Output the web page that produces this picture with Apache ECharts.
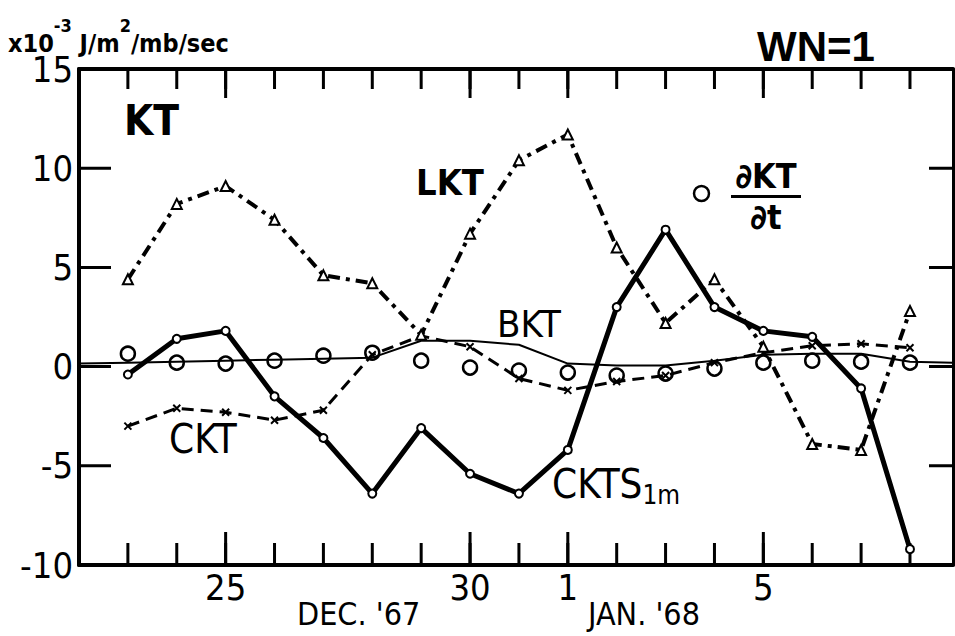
<!DOCTYPE html>
<html>
<head>
<meta charset="utf-8">
<script src="https://cdn.jsdelivr.net/npm/echarts@6/dist/echarts.min.js"></script>
<style>
  html, body { margin: 0; padding: 0; background: #fff; }
  #chart { width: 955px; height: 636px; }
</style>
</head>
<body>
<div id="chart"></div>
<script>
// Kinetic energy budget terms for wave number 1, 22 Dec 1967 - 8 Jan 1968.
// x is the day count, day 0 = 22 Dec 1967.
const days = [1, 2, 3, 4, 5, 6, 7, 8, 9, 10, 11, 12, 13, 14, 15, 16, 17];
const bktDays = [0, 1, 2, 3, 4, 5, 6, 7, 8, 9, 10, 11, 12, 13, 14, 15, 16, 17, 17.88];

// units: 10^-3 J/m^2/mb/sec
const lkt  = [4.4, 8.2, 9.1, 7.4, 4.6, 4.2, 1.6, 6.7, 10.4, 11.7, 6.0, 2.2, 4.4, 1.0, -3.9, -4.2, 2.8];
const ckts = [-0.4, 1.4, 1.8, -1.5, -3.6, -6.4, -3.1, -5.4, -6.4, -4.2, 3.0, 6.9, 3.0, 1.8, 1.5, -1.1, -9.2];
const dktdt = [0.65, 0.2, 0.15, 0.3, 0.55, 0.7, 0.3, -0.05, -0.2, -0.3, -0.45, -0.35, -0.1, 0.2, 0.3, 0.25, 0.2];
const ckt  = [-3.0, -2.1, -2.3, -2.7, -2.2, 0.6, 1.55, 1.0, -0.6, -1.2, -0.75, -0.45, 0.2, 0.7, 1.05, 1.15, 0.95];
const bkt  = [0.15, 0.2, 0.25, 0.3, 0.35, 0.4, 0.45, 1.3, 1.3, 1.1, 0.15, 0.05, 0.05, 0.3, 0.6, 0.65, 0.65, 0.25, 0.2];

// axis ticks and labels
const dayTicks = [1, 2, 3, 4, 5, 6, 7, 8, 9, 10, 11, 12, 13, 14, 15, 16, 17];
const dateTickDays = [3, 8, 10, 14];
const dateTickLabels = ['25', '30', '1', '5'];
const valueTicks = [-5, 0, 5, 10];
const yTickLabels = ['-10', '-5', '0', '5', '10', '15'];

const pairs = (xs, ys) => xs.map((x, i) => [x, ys[i]]);
const dateLabel = v => {
  const i = dateTickDays.indexOf(v);
  return i >= 0 ? dateTickLabels[i] : '';
};

const NARROW = "'Liberation Sans Narrow', 'DejaVu Sans Condensed', 'Liberation Sans', sans-serif";
const INK = '#000';
const X_MIN = 0, X_MAX = 17.88, Y_MIN = -10, Y_MAX = 15;

// plot box in pixels, used to express tick lengths in axis units
const GRID = { left: 79, right: 2, top: 69, bottom: 71 };
const PX_PER_DAY = (955 - GRID.left - GRID.right) / (X_MAX - X_MIN);
const PX_PER_UNIT = (636 - GRID.top - GRID.bottom) / (Y_MAX - Y_MIN);

// inward tick marks: short segments separated by empty points
function verticalTicks(ticks, edge, lenPx, dir) {
  const out = [];
  ticks.forEach(d => {
    out.push([d, edge], [d, edge + dir * lenPx / PX_PER_UNIT], [d, null]);
  });
  return out;
}
function horizontalTicks(ticks, edge, lenPx, dir) {
  const out = [];
  ticks.forEach(v => {
    out.push([edge, v], [edge + dir * lenPx / PX_PER_DAY, v], [edge, null]);
  });
  return out;
}
const tickSeries = (name, data) => ({
  name, type: 'line', data, symbol: 'none', silent: true, clip: false,
  connectNulls: false, z: 1,
  lineStyle: { color: INK, width: 3, cap: 'butt' }
});

// free-standing annotation text
const note = (left, top, text, textStyle) => ({
  left, top, padding: 0, itemGap: 0, text,
  textStyle: Object.assign({ color: INK, fontFamily: NARROW, fontWeight: 'normal' }, textStyle)
});

const chart = echarts.init(document.getElementById('chart'), null, { renderer: 'svg' });

chart.setOption({
  animation: false,
  grid: Object.assign({ outerBoundsMode: 'none' }, GRID),
  title: [
    note(8, 16, '{m|x10}{s|-3}{m| J/m}{s|2}{m|/mb/sec}', {
      fontWeight: 'bold',
      rich: {
        m: { fontSize: 25, fontWeight: 'bold', fontFamily: NARROW, color: INK, lineHeight: 40, verticalAlign: 'bottom' },
        s: { fontSize: 18, fontWeight: 'bold', fontFamily: NARROW, color: INK, lineHeight: 40, verticalAlign: 'top' }
      }
    }),
    note(757, 25, 'WN=1', { fontFamily: "'Liberation Sans', sans-serif", fontWeight: 'bold', fontSize: 42 }),
    note(124, 99, 'KT', { fontWeight: 'bold', fontSize: 42 }),
    note(416, 164, 'LKT', { fontWeight: 'bold', fontSize: 36 }),
    note(694, 186, '{c|}', {
      rich: { c: { width: 15, height: 15, borderColor: INK, borderWidth: 2.5, borderRadius: 10 } }
    }),
    note(731, 158, '{n|∂KT}\n{bar|}\n{n|∂t}', {
      rich: {
        n: { width: 70, align: 'center', fontSize: 34, fontWeight: 'bold', fontFamily: NARROW, color: INK, lineHeight: 36 },
        bar: { width: 70, height: 3, backgroundColor: INK, lineHeight: 5 }
      }
    }),
    note(497, 305, 'BKT', { fontSize: 38 }),
    note(169, 419, 'CKT', { fontSize: 40 }),
    note(552, 464, '{a|CKTS}{b|1m}', {
      rich: {
        a: { fontSize: 40, fontFamily: NARROW, color: INK, lineHeight: 44, verticalAlign: 'top' },
        b: { fontSize: 26, fontFamily: NARROW, color: INK, lineHeight: 44, verticalAlign: 'bottom' }
      }
    }),
    note(297, 598, "DEC. '67", { fontSize: 32 }),
    note(588, 598, "JAN. '68", { fontSize: 32 })
  ],
  xAxis: [
    {
      type: 'value', min: X_MIN, max: X_MAX, interval: 1, position: 'bottom',
      splitLine: { show: false },
      axisLine: { show: true, onZero: false, lineStyle: { color: INK, width: 4 } },
      axisTick: { show: false },
      axisLabel: {
        show: true, formatter: dateLabel, showMinLabel: false, showMaxLabel: false,
        color: INK, fontFamily: NARROW, fontSize: 36, margin: 4
      }
    },
    {
      type: 'value', min: X_MIN, max: X_MAX, interval: 1, position: 'top',
      splitLine: { show: false },
      axisLine: { show: true, onZero: false, lineStyle: { color: INK, width: 4 } },
      axisTick: { show: false },
      axisLabel: { show: false }
    }
  ],
  yAxis: [
    {
      type: 'value', min: Y_MIN, max: Y_MAX, interval: 5, position: 'left',
      splitLine: { show: false },
      axisLine: { show: true, onZero: false, lineStyle: { color: INK, width: 4 } },
      axisTick: { show: false },
      axisLabel: {
        color: INK, fontFamily: NARROW, fontSize: 36, margin: 6,
        formatter: v => yTickLabels[(v - Y_MIN) / 5]
      }
    },
    {
      type: 'value', min: Y_MIN, max: Y_MAX, interval: 5, position: 'right',
      splitLine: { show: false },
      axisLine: { show: true, onZero: false, lineStyle: { color: INK, width: 3 } },
      axisTick: { show: false },
      axisLabel: { show: false }
    }
  ],
  series: [
    tickSeries('bottom day ticks', verticalTicks(dayTicks, Y_MIN, 22, 1)),
    tickSeries('top day ticks', verticalTicks(dayTicks, Y_MAX, 20, -1)),
    tickSeries('bottom date ticks', verticalTicks(dateTickDays, Y_MIN, 33, 1)),
    tickSeries('top date ticks', verticalTicks(dateTickDays, Y_MAX, 29, -1)),
    tickSeries('left value ticks', horizontalTicks(valueTicks, X_MIN, 32, 1)),
    tickSeries('right value ticks', horizontalTicks(valueTicks, X_MAX, 24, -1)),
    {
      name: 'BKT', type: 'line', data: pairs(bktDays, bkt),
      symbol: 'none', lineStyle: { color: INK, width: 2 }
    },
    {
      name: 'CKT', type: 'line', data: pairs(days, ckt),
      symbol: 'path://M0,0L10,10M10,0L0,10', symbolSize: 7,
      itemStyle: { color: 'none', borderColor: INK, borderWidth: 2, opacity: 1 },
      lineStyle: { color: INK, width: 3, type: [12, 7] }
    },
    {
      name: 'LKT', type: 'line', data: pairs(days, lkt),
      symbol: 'triangle', symbolSize: 10,
      itemStyle: { color: '#fff', borderColor: INK, borderWidth: 2, opacity: 1 },
      lineStyle: { color: INK, width: 4, type: [12, 6, 4, 6] }
    },
    {
      name: 'CKTS1m', type: 'line', data: pairs(days, ckts),
      symbol: 'circle', symbolSize: 8,
      itemStyle: { color: '#fff', borderColor: INK, borderWidth: 2, opacity: 1 },
      lineStyle: { color: INK, width: 5 }
    },
    {
      name: '∂KT/∂t', type: 'scatter', data: pairs(days, dktdt),
      symbol: 'circle', symbolSize: 14,
      itemStyle: { color: 'rgba(0,0,0,0)', borderColor: INK, borderWidth: 2.5, opacity: 1 }
    }
  ]
});
</script>
</body>
</html>
